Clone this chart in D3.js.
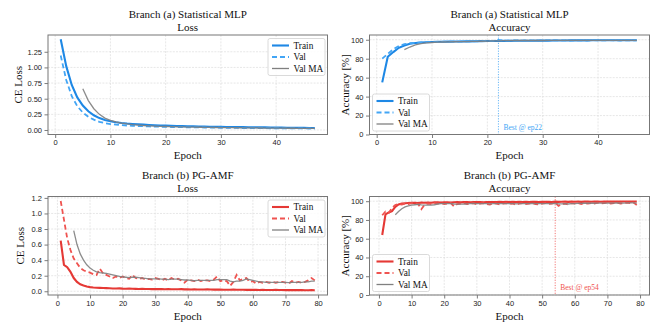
<!DOCTYPE html>
<html>
<head>
<meta charset="utf-8">
<script src="https://cdn.jsdelivr.net/npm/d3@7"></script>
<style>
  body { margin: 0; background: #fff; }
  svg { display: block; font-family: "Liberation Serif", "DejaVu Serif", serif; }
  .tick text { fill: #222; }
  .tick line { stroke: #444; stroke-width: 0.7; }
</style>
</head>
<body>
<svg id="chart" width="670" height="327"></svg>
<script>
// ---- data ----
const lossTrainA = [1.45,1.02,0.72,0.52,0.39,0.30,0.235,0.19,0.16,0.14,
  0.125,0.113,0.104,0.097,0.091,0.086,0.081,0.077,0.073,0.07,
  0.067,0.064,0.062,0.061,0.059,0.056,0.054,0.053,0.051,0.05,
  0.049,0.048,0.047,0.046,0.045,0.045,0.043,0.042,0.04,0.039,
  0.038,0.037,0.036,0.035,0.034,0.033,0.032];
const lossValA = [1.19,0.8,0.54,0.38,0.28,0.21,0.165,0.13,0.11,0.095,
  0.085,0.078,0.072,0.067,0.063,0.06,0.057,0.054,0.052,0.05,
  0.048,0.046,0.045,0.043,0.042,0.041,0.04,0.038,0.037,0.036,
  0.035,0.034,0.033,0.032,0.031,0.031,0.03,0.029,0.028,0.028,
  0.027,0.026,0.026,0.025,0.025,0.024,0.024];
const lossMaA = [0.66,0.47,0.34,0.25,0.19,0.155,0.128,0.11,0.097,0.087,
  0.079,0.072,0.067,0.063,0.059,0.056,0.053,0.051,0.049,0.047,
  0.045,0.044,0.042,0.041,0.04,0.039,0.038,0.037,0.036,0.035,
  0.034,0.033,0.032,0.031,0.03,0.03,0.029,0.028,0.028,0.027,
  0.026,0.026,0.025];

const accTrainA = [55,82,87,91.5,94,95.8,96.6,97.1,97.4,97.6,
  97.8,97.9,98,98.1,98.2,98.3,98.3,98.4,98.5,98.6,
  98.6,98.7,98.8,98.8,98.9,98.9,99,99,99.1,99.1,
  99.1,99.2,99.2,99.2,99.3,99.3,99.3,99.3,99.4,99.4,
  99.4,99.4,99.5,99.5,99.5,99.5,99.5];
const accValA = [80,85,90,93.5,95.3,96.3,96.9,97.2,97.4,97.5,
  97.7,97.9,98,98.1,98,98.3,98.4,98.2,98.5,98.7,
  98.9,99.7,99.2,99,99.3,99.1,99.4,99.2,98.9,99.4,
  99.3,99.5,99.2,99.4,99.1,99.5,99.3,99.2,99.5,99.4,
  99.3,99.5,99.4,99.2,99.5,99.4,99.3];
const accMaA = [89.5,92.3,94.5,95.9,96.6,97.1,97.4,97.6,97.8,97.9,
  98,98.1,98.2,98.3,98.4,98.5,98.7,98.9,99,99.1,
  99.2,99.2,99.2,99.2,99.2,99.2,99.3,99.3,99.3,99.3,
  99.3,99.3,99.3,99.3,99.3,99.3,99.4,99.4,99.4,99.4,
  99.4,99.4,99.4];

const lossTrainB = [0.65,0.34,0.31,0.25,0.17,0.12,0.09,0.075,0.062,0.053,
  0.048,0.045,0.043,0.041,0.04,0.038,0.036,0.035,0.037,0.034,
  0.033,0.035,0.032,0.031,0.03,0.031,0.03,0.029,0.028,0.03,
  0.028,0.027,0.026,0.028,0.026,0.025,0.025,0.027,0.024,0.024,
  0.023,0.025,0.023,0.022,0.022,0.024,0.022,0.021,0.021,0.023,
  0.02,0.02,0.019,0.021,0.02,0.019,0.019,0.018,0.02,0.018,
  0.018,0.017,0.019,0.017,0.017,0.016,0.018,0.016,0.016,0.015,
  0.017,0.015,0.015,0.015,0.016,0.014,0.014,0.015,0.014];
const lossValB = [1.16,0.92,0.68,0.53,0.42,0.36,0.3,0.27,0.25,0.24,
  0.22,0.21,0.29,0.23,0.21,0.19,0.17,0.19,0.17,0.19,
  0.17,0.16,0.21,0.17,0.16,0.17,0.15,0.16,0.15,0.17,
  0.16,0.14,0.16,0.14,0.17,0.15,0.16,0.14,0.11,0.15,
  0.14,0.13,0.15,0.13,0.14,0.14,0.13,0.15,0.19,0.13,
  0.14,0.13,0.07,0.12,0.21,0.14,0.16,0.17,0.12,0.13,
  0.1,0.12,0.11,0.12,0.11,0.12,0.11,0.12,0.12,0.11,
  0.1,0.13,0.11,0.12,0.11,0.12,0.14,0.17,0.14];
const lossMaB = [0.78,0.6,0.48,0.4,0.34,0.3,0.27,0.25,0.24,0.235,
  0.23,0.22,0.21,0.2,0.19,0.185,0.18,0.175,0.18,0.18,
  0.175,0.17,0.165,0.16,0.16,0.16,0.16,0.155,0.155,0.15,
  0.155,0.155,0.155,0.15,0.145,0.145,0.14,0.135,0.14,0.14,
  0.14,0.14,0.14,0.14,0.15,0.15,0.15,0.15,0.13,0.12,
  0.13,0.13,0.14,0.16,0.15,0.14,0.13,0.12,0.12,0.115,
  0.115,0.115,0.115,0.115,0.115,0.115,0.11,0.115,0.115,0.115,
  0.115,0.12,0.12,0.13,0.13];

const accTrainB = [64,86,88,89.5,94,96.5,97.5,97.8,98,98.2,
  98.3,98.1,98.5,98.4,98.6,98.3,98.7,98.8,98.5,98.8,
  98.9,98.6,98.9,99,98.7,99,99.1,98.8,99.1,99,
  99.2,98.9,99.2,99.1,99.2,99,99.3,99.1,99.3,99.2,
  99.3,99,99.3,99.2,99.4,99.1,99.3,99.4,99.2,99.4,
  99.3,99.4,99.2,99.5,99.3,99.4,99.5,99.3,99.5,99.4,
  99.5,99.3,99.5,99.5,99.4,99.6,99.5,99.4,99.6,99.5,
  99.6,99.5,99.6,99.5,99.6,99.6,99.5,99.6,99.6];
const accValB = [85,89,87.5,93,96,97,96.5,97.5,97,98,
  97.5,97,91.5,96.5,97.5,97,98,97.5,98,97,
  97.5,98,94.5,97,97.5,98,97,97.5,98,96.5,
  97.5,98,97,96.5,98,97.5,96.5,97.5,98,97,
  97.5,96,97.5,98,97,97.5,98,97,96.5,97.5,
  98,97,97.5,98.5,95,97,97.5,96.5,98,97.5,
  98,97,98,97.5,98,97.5,98.5,97.5,98,98.5,
  97.5,98,98.5,97.5,98,98.5,98,98.5,96];
const accMaB = [85.5,89,92,94,95,95.8,96.2,96.5,96,95.8,
  95.7,95.8,96.2,97,97.3,97.5,97.5,97.5,97,96.8,
  96.9,97,97.2,97.5,97.6,97.4,97.3,97.5,97.4,97.2,
  97.3,97.4,97.3,97.4,97.5,97.4,97.4,97.2,97.3,97.5,
  97.4,97.4,97.6,97.5,97.3,97.4,97.5,97.5,97.5,97.7,
  97.2,97.2,97.3,97,97.4,97.5,97.6,97.6,97.8,97.8,
  97.8,97.8,97.9,97.9,98,98,98,98,98.1,98,
  98,98.1,98.2,98.3,98];

const maStart = 5;
const ticksEpochA = [0, 10, 20, 30, 40];
const ticksEpochB = [0, 10, 20, 30, 40, 50, 60, 70, 80];
const ticksLossA = [0, 0.25, 0.5, 0.75, 1.0, 1.25];
const ticksLossB = [0, 0.2, 0.4, 0.6, 0.8, 1.0, 1.2];
const ticksAcc = [0, 20, 40, 60, 80, 100];

const blue = { train: '#1e88e5', val: '#42a5f5' };
const red = { train: '#e53935', val: '#ef5350' };
const maColor = '#808080';

const svg = d3.select('#chart');

const panels = [
  { title: ['Branch (a) Statistical MLP', 'Loss'], ylabel: 'CE Loss', yl: 18,
    box: { l: 48, r: 327.5, t: 35, b: 134.5 }, xd: [-1.3, 49.3], yd: [-0.072, 1.518],
    xt: ticksEpochA, yt: ticksLossA, yf: d3.format('.2f'), col: blue,
    train: lossTrainA, val: lossValA, ma: lossMaA, legend: 'ur' },
  { title: ['Branch (a) Statistical MLP', 'Accuracy'], ylabel: 'Accuracy [%]', yl: 345,
    box: { l: 369.5, r: 649.5, t: 35, b: 134.5 }, xd: [-1.3, 49.3], yd: [0, 105],
    xt: ticksEpochA, yt: ticksAcc, yf: d3.format('d'), col: blue,
    train: accTrainA, val: accValA, ma: accMaA, legend: 'll', best: 22 },
  { title: ['Branch (b) PG-AMF', 'Loss'], ylabel: 'CE Loss', yl: 20.5,
    box: { l: 48, r: 327.5, t: 196.5, b: 295 }, xd: [-2.9, 82.9], yd: [-0.048, 1.218],
    xt: ticksEpochB, yt: ticksLossB, yf: d3.format('.1f'), col: red,
    train: lossTrainB, val: lossValB, ma: lossMaB, legend: 'ur' },
  { title: ['Branch (b) PG-AMF', 'Accuracy'], ylabel: 'Accuracy [%]', yl: 345,
    box: { l: 369.5, r: 649.5, t: 196.5, b: 295 }, xd: [-2.9, 82.9], yd: [0, 105],
    xt: ticksEpochB, yt: ticksAcc, yf: d3.format('d'), col: red,
    train: accTrainB, val: accValB, ma: accMaB, legend: 'll', best: 54 }
];

panels.forEach(drawPanel);

function drawPanel(p) {
  const b = p.box;
  const x = d3.scaleLinear().domain(p.xd).range([b.l, b.r]);
  const y = d3.scaleLinear().domain(p.yd).range([b.b, b.t]);
  const g = svg.append('g');
  const cx = (b.l + b.r) / 2;

  // grid
  g.append('g').selectAll('line').data(p.xt).enter().append('line')
    .attr('x1', d => x(d)).attr('x2', d => x(d))
    .attr('y1', b.t).attr('y2', b.b)
    .attr('stroke', '#dcdcdc').attr('stroke-width', 0.7).attr('stroke-dasharray', '2,1.2');
  g.append('g').selectAll('line').data(p.yt).enter().append('line')
    .attr('x1', b.l).attr('x2', b.r)
    .attr('y1', d => y(d)).attr('y2', d => y(d))
    .attr('stroke', '#dcdcdc').attr('stroke-width', 0.7).attr('stroke-dasharray', '2,1.2');

  // best epoch marker
  if (p.best) {
    g.append('line')
      .attr('x1', x(p.best)).attr('x2', x(p.best))
      .attr('y1', b.t).attr('y2', b.b)
      .attr('stroke', p.col.val).attr('stroke-width', 0.8)
      .attr('stroke-dasharray', '1.2,1.4');
    g.append('text')
      .attr('x', x(p.best) + 5).attr('y', b.b - 5)
      .attr('font-size', 7.5).attr('fill', p.col.val)
      .text('Best @ ep' + p.best);
  }

  const clip = 'clip' + Math.round(b.l) + Math.round(b.t);
  svg.append('clipPath').attr('id', clip).append('rect')
    .attr('x', b.l).attr('y', b.t).attr('width', b.r - b.l).attr('height', b.b - b.t);

  const line = d3.line().x(d => x(d[0])).y(d => y(d[1]));
  const lines = g.append('g').attr('clip-path', 'url(#' + clip + ')');
  lines.append('path')
    .attr('d', line(p.train.map((v, i) => [i + 1, v])))
    .attr('fill', 'none').attr('stroke', p.col.train).attr('stroke-width', 2.1);
  lines.append('path')
    .attr('d', line(p.val.map((v, i) => [i + 1, v])))
    .attr('fill', 'none').attr('stroke', p.col.val).attr('stroke-width', 1.8)
    .attr('stroke-dasharray', '5,3');
  lines.append('path')
    .attr('d', line(p.ma.map((v, i) => [i + maStart, v])))
    .attr('fill', 'none').attr('stroke', maColor).attr('stroke-width', 1.3)
    .attr('stroke-opacity', 0.9);

  // axes
  g.append('g').attr('transform', 'translate(0,' + b.b + ')')
    .call(d3.axisBottom(x).tickValues(p.xt).tickSize(3.5).tickPadding(2).tickFormat(d3.format('d')))
    .call(a => a.select('.domain').remove())
    .call(a => a.selectAll('text').attr('font-size', 7.5).attr('font-family', null));
  g.append('g').attr('transform', 'translate(' + b.l + ',0)')
    .call(d3.axisLeft(y).tickValues(p.yt).tickSize(3.5).tickPadding(2.5).tickFormat(p.yf))
    .call(a => a.select('.domain').remove())
    .call(a => a.selectAll('text').attr('font-size', 7.5).attr('font-family', null));

  // frame
  g.append('rect')
    .attr('x', b.l).attr('y', b.t).attr('width', b.r - b.l).attr('height', b.b - b.t)
    .attr('fill', 'none').attr('stroke', '#777').attr('stroke-width', 1);

  // titles
  g.append('text').attr('x', cx).attr('y', b.t - 17.5)
    .attr('text-anchor', 'middle').attr('font-size', 11).attr('fill', '#111')
    .text(p.title[0]);
  g.append('text').attr('x', cx).attr('y', b.t - 4.5)
    .attr('text-anchor', 'middle').attr('font-size', 11).attr('fill', '#111')
    .text(p.title[1]);

  g.append('text').attr('x', cx).attr('y', b.b + 24.5)
    .attr('text-anchor', 'middle').attr('font-size', 11).attr('fill', '#111')
    .text('Epoch');
  g.append('text')
    .attr('transform', 'translate(' + p.yl + ',' + ((b.t + b.b) / 2) + ') rotate(-90)')
    .attr('text-anchor', 'middle').attr('dy', '0.35em')
    .attr('font-size', 11).attr('fill', '#111')
    .text(p.ylabel);

  // legend
  const items = [
    { name: 'Train', color: p.col.train, w: 2.1, dash: null },
    { name: 'Val', color: p.col.val, w: 1.8, dash: '5,3' },
    { name: 'Val MA', color: maColor, w: 1.3, dash: null }
  ];
  const lw = 57, lh = 37;
  const lx = p.legend === 'ur' ? b.r - 2.5 - lw : b.l + 3;
  const ly = p.legend === 'ur' ? b.t + 3.5 : b.b - 3.5 - lh;
  const leg = g.append('g').attr('transform', 'translate(' + lx + ',' + ly + ')');
  leg.append('rect').attr('width', lw).attr('height', lh).attr('rx', 2)
    .attr('fill', '#fff').attr('fill-opacity', 0.85)
    .attr('stroke', '#d0d0d0').attr('stroke-width', 0.8);
  const row = leg.selectAll('g.row').data(items).enter().append('g')
    .attr('class', 'row')
    .attr('transform', (d, i) => 'translate(0,' + (7 + i * 11.5) + ')');
  row.append('line').attr('x1', 4).attr('x2', 21)
    .attr('stroke', d => d.color).attr('stroke-width', d => d.w)
    .attr('stroke-dasharray', d => d.dash);
  row.append('text').attr('x', 25.5).attr('dy', '0.33em')
    .attr('font-size', 9.3).attr('fill', '#111')
    .text(d => d.name);
}
</script>
</body>
</html>
